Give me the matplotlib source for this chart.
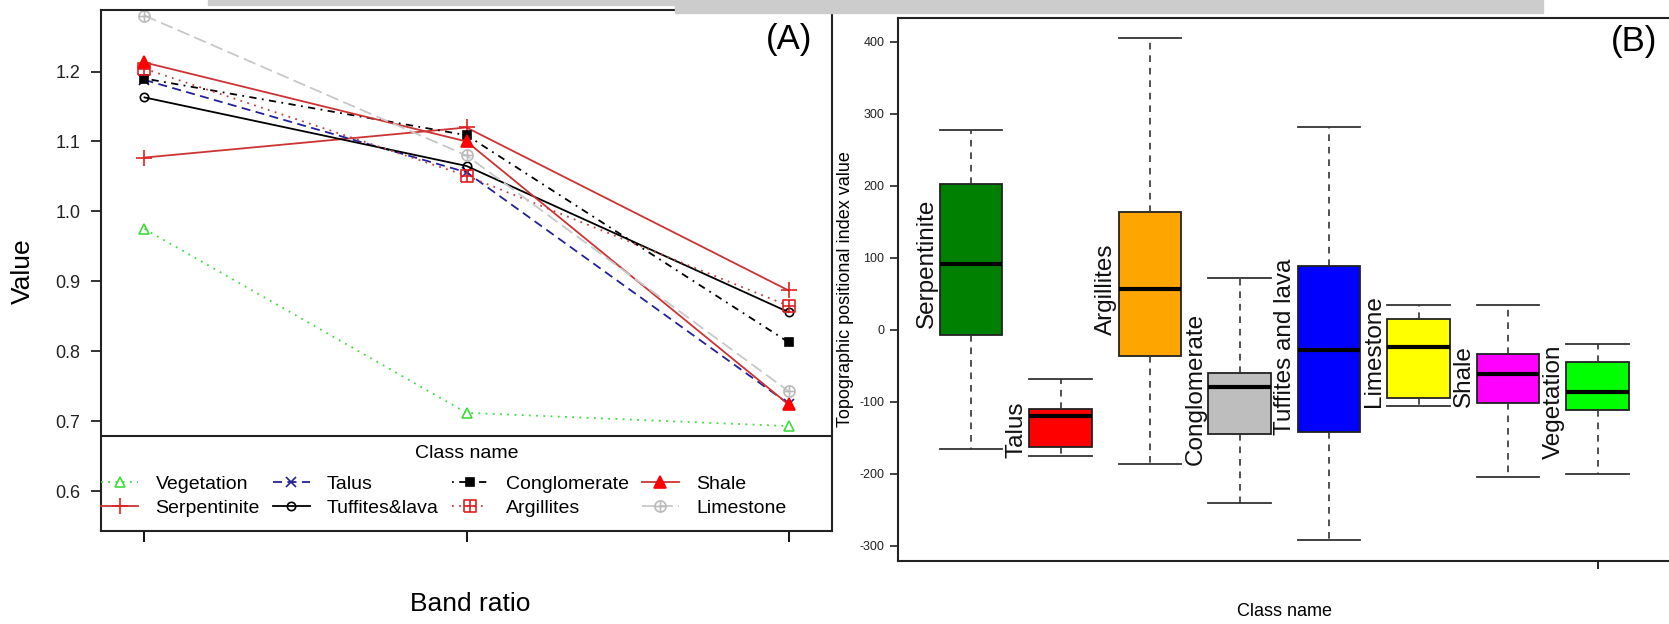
import matplotlib
matplotlib.use("Agg")
import matplotlib.pyplot as plt
from matplotlib.path import Path
from matplotlib.patches import Rectangle
import numpy as np

plt.rcParams["font.family"] = ["Liberation Sans", "DejaVu Sans"]
plt.rcParams["axes.unicode_minus"] = False

W, H = 1669, 624

# ---------------- panel A: band ratio profiles ----------------
band_pos = [1, 2, 3]
classes_a = ["Vegetation", "Serpentinite", "Talus", "Tuffites&lava",
             "Conglomerate", "Argillites", "Shale", "Limestone"]
vegetation   = [0.975, 0.712, 0.693]
serpentinite = [1.077, 1.120, 0.887]
talus        = [1.188, 1.056, 0.725]
tuffites     = [1.163, 1.065, 0.856]
conglomerate = [1.190, 1.109, 0.813]
argillites   = [1.204, 1.051, 0.865]
shale        = [1.213, 1.100, 0.724]
limestone    = [1.280, 1.080, 0.743]
series_a = [vegetation, serpentinite, talus, tuffites,
            conglomerate, argillites, shale, limestone]

# ---------------- panel B: TPI box plots ----------------
classes_b = ["Serpentinite", "Talus", "Argillites", "Conglomerate",
             "Tuffites and lava", "Limestone", "Shale", "Vegetation"]
whis_hi = [278, -68, 405, 72, 281, 35, 35, -20]
q3      = [203, -110, 164, -60, 89, 15, -33, -45]
median  = [92, -119, 57, -80, -28, -24, -61, -87]
q1      = [-7, -163, -36, -145, -142, -94, -101, -111]
whis_lo = [-166, -175, -187, -240, -292, -106, -205, -200]
box_colors = ["#008000", "#ff0000", "#ffa500", "#bebebe",
              "#0000ff", "#ffff00", "#ff00ff", "#00ff00"]
label_base = [2, -178, -7, -188, -146, -107, -107, -179]


def combo_marker(outline):
    """outline + plus sign as one open path marker"""
    if outline == "square":
        verts = [(-1, -1), (1, -1), (1, 1), (-1, 1), (-1, -1)]
    else:
        t = np.linspace(0, 2 * np.pi, 33)
        verts = list(zip(np.cos(t), np.sin(t)))
    codes = [Path.MOVETO] + [Path.LINETO] * (len(verts) - 1)
    verts += [(-1, 0), (1, 0), (0, -1), (0, 1)]
    codes += [Path.MOVETO, Path.LINETO, Path.MOVETO, Path.LINETO]
    return Path(verts, codes)


styles = [
    dict(color="#3ddc3d", ls=(0, (1, 3)), marker="^", mfc="none", mec="#3ddc3d"),
    dict(color="#cd3333", ls="-", marker="+", mfc="none", mec="#e02020", ms=12),
    dict(color="#22229a", ls=(0, (5, 3)), marker="x", mfc="none", mec="#22229a"),
    dict(color="black", ls="-", marker="o", mfc="none", mec="black", ms=6),
    dict(color="black", ls=(0, (1, 3, 4, 3)), marker="s", mfc="black", mec="black", ms=6),
    dict(color="#c04040", ls=(0, (1, 3)), marker=combo_marker("square"),
         mfc="none", mec="#e02020", ms=8),
    dict(color="#cd3333", ls="-", marker="^", mfc="#ff0000", mec="#ff0000", ms=8),
    dict(color="#c8c8c8", ls=(0, (7, 3)), marker=combo_marker("circle"),
         mfc="none", mec="#bbbbbb", ms=8),
]

fig = plt.figure(figsize=(W / 100, H / 100), dpi=100)

# top banner (cropped page header)
fig.patches.append(Rectangle((208 / W, 1 - 5 / H), (675 - 208) / W, 5 / H,
                             transform=fig.transFigure, color="#cccccc", zorder=0))
fig.patches.append(Rectangle((675 / W, 1 - 13 / H), (1543 - 675) / W, 13 / H,
                             transform=fig.transFigure, color="#cccccc", zorder=0))

axA = fig.add_axes([101 / W, 1 - 531 / H, (832 - 101) / W, (531 - 10) / H])
handles = []
for vals, name, st in zip(series_a, classes_a, styles):
    st = dict(st)
    ms = st.pop("ms", 7)
    h, = axA.plot(band_pos, vals, lw=1.3, ms=ms, mew=1.2, label=name, **st)
    handles.append(h)

axA.set_xlim(0.865, 3.135)
axA.set_ylim(0.543, 1.288)
axA.set_xticks(band_pos)
axA.set_xticklabels([])
axA.set_yticks([0.6, 0.7, 0.8, 0.9, 1.0, 1.1, 1.2])
axA.set_yticklabels(["0.6", "0.7", "0.8", "0.9", "1.0", "1.1", "1.2"])
axA.tick_params(axis="y", length=7.5, width=1.3, pad=7.5, labelsize=13, colors="#222222")
axA.tick_params(axis="x", length=8, width=1.3)
for sp in axA.spines.values():
    sp.set_linewidth(1.5)
    sp.set_color("#222222")

# legend box drawn separately so the entries can run up to the frame
leg_h = 95 / 521
axA.add_patch(Rectangle((0, 0), 1, leg_h, transform=axA.transAxes,
                        facecolor="white", edgecolor="#222222", lw=1.5, zorder=4))
axA.text(0.5, 77 / 521, "Class name", transform=axA.transAxes, ha="center",
         va="center", fontsize=14, zorder=6)
leg = axA.legend(handles=handles, ncol=4, loc="lower left",
                 bbox_to_anchor=(-0.019, 0.0), borderaxespad=0, fontsize=14,
                 handlelength=1.9, handletextpad=0.9, labelspacing=0.35,
                 borderpad=0.72, columnspacing=0.65, frameon=False)
leg.set_zorder(5)

fig.text(23 / W, 1 - 271 / H, "Value", rotation=90, ha="center", va="center", fontsize=19)
fig.text(470 / W, 1 - 604 / H, "Band ratio", ha="center", va="center", fontsize=19)
fig.text(789 / W, 1 - 39 / H, "(A)", ha="center", va="center", fontsize=25)

# ---------------- panel B ----------------
axB = fig.add_axes([897.7 / W, 1 - 561 / H, (1671 - 897.7) / W, (561 - 18.3) / H])
positions = np.arange(1, len(classes_b) + 1)
stats = [dict(label=c, med=m, q1=a, q3=b, whislo=lo, whishi=hi)
         for c, m, a, b, lo, hi in zip(classes_b, median, q1, q3, whis_lo, whis_hi)]
bp = axB.bxp(stats, positions=positions, widths=0.7, capwidths=0.7,
             showfliers=False, patch_artist=True,
             boxprops=dict(edgecolor="#222222", linewidth=1.3),
             medianprops=dict(color="black", linewidth=3),
             whiskerprops=dict(color="#333333", linewidth=1.2, linestyle=(0, (4, 3.5))),
             capprops=dict(color="#333333", linewidth=1.3))
for patch, col in zip(bp["boxes"], box_colors):
    patch.set_facecolor(col)

for p, name, yb in zip(positions, classes_b, label_base):
    axB.text(p - 0.37, yb, name, rotation=90, ha="right", va="bottom",
             fontsize=17.5, color="#111111")

axB.set_xlim(0.18, 8.82)
axB.set_ylim(-321, 432.5)
axB.set_xticks([positions[-1]])
axB.set_xticklabels([])
axB.set_yticks(np.arange(-300, 401, 100))
axB.tick_params(axis="y", length=5.5, width=1.2, pad=4, labelsize=9, colors="#222222")
axB.tick_params(axis="x", length=5.5, width=1.2)
for sp in axB.spines.values():
    sp.set_linewidth(1.5)
    sp.set_color("#222222")

fig.text(845 / W, 1 - 289 / H, "Topographic positional index value", rotation=90,
         ha="center", va="center", fontsize=13)
fig.text(1284 / W, 1 - 612 / H, "Class name", ha="center", va="center", fontsize=13)
fig.text(1634 / W, 1 - 42 / H, "(B)", ha="center", va="center", fontsize=25)

fig.savefig("out.png", dpi=100)
